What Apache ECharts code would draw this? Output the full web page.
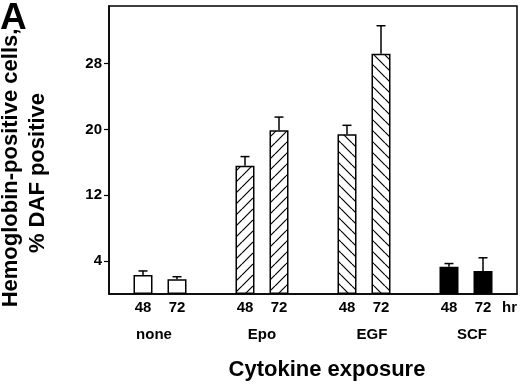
<!DOCTYPE html>
<html><head><meta charset="utf-8">
<script src="https://cdn.jsdelivr.net/npm/echarts@6/dist/echarts.min.js"></script>
<style>html,body{margin:0;padding:0;background:#fff}#c{width:520px;height:385px}</style>
</head><body><div id="c"></div>
<script>
const groups = ['none', 'Epo', 'EGF', 'SCF'];
const hours = ['48', '72'];
const mean48 = [2.3, 15.6, 19.4, 3.3];
const mean72 = [1.8, 19.9, 29.2, 2.8];
const err48 = [0.5, 1.1, 1.1, 0.4];
const err72 = [0.3, 1.6, 3.4, 1.6];
const yTicks = [4, 12, 20, 28];

const FONT = 'Liberation Sans, Arial, sans-serif';

function hatch(dir) {
  const s = 11;
  const c = document.createElement('canvas');
  c.width = c.height = s;
  const g = c.getContext('2d');
  g.fillStyle = '#fff'; g.fillRect(0, 0, s, s);
  g.strokeStyle = '#000'; g.lineWidth = 1.2;
  g.beginPath();
  for (let k = -1; k <= 1; k++) {
    if (dir > 0) { g.moveTo(k * s, s); g.lineTo(k * s + s, 0); }
    else { g.moveTo(k * s, 0); g.lineTo(k * s + s, s); }
  }
  g.stroke();
  return c;
}
const fills = ['#ffffff', {image: hatch(1), repeat: 'repeat'}, {image: hatch(-1), repeat: 'repeat'}, '#000000'];
const labelPad = [[0, 12, 0, 0], [0, 0, 0, 0], [0, 0, 0, 16], [0, 0, 0, 12]];

function barData(vals) {
  return vals.map((v, i) => ({value: v, itemStyle: {color: fills[i]}}));
}
function errData(vals, errs) {
  return vals.map((v, i) => [i, v, v + errs[i]]);
}
function errSeries(vals, errs, side) {
  return {
    type: 'custom', z: 3,
    data: errData(vals, errs),
    renderItem: function (params, api) {
      const band = api.size([1, 0])[0];
      const p0 = api.coord([api.value(0), api.value(1)]);
      const p1 = api.coord([api.value(0), api.value(2)]);
      const x = p0[0] + side * band / 6;
      const st = {stroke: '#000', lineWidth: 1.5};
      return {type: 'group', children: [
        {type: 'line', shape: {x1: x, y1: p0[1], x2: x, y2: p1[1]}, style: st},
        {type: 'line', shape: {x1: x - 4.5, y1: p1[1], x2: x + 4.5, y2: p1[1]}, style: st}
      ]};
    }
  };
}
const hourLabel = (h) => ({show: true, position: 'bottom', distance: 6, formatter: h,
  color: '#000', fontFamily: FONT, fontWeight: 'bold', fontSize: 15});

const chart = echarts.init(document.getElementById('c'), null, {renderer: 'canvas'});
chart.setOption({
  animation: false,
  backgroundColor: '#fff',
  grid: {left: 109, right: 3, top: 6, bottom: 91, show: true, borderColor: '#000', borderWidth: 1.5, backgroundColor: 'transparent'},
  xAxis: {
    type: 'category',
    data: groups.map((g, i) => ({value: g, textStyle: {padding: labelPad[i]}})),
    axisLine: {lineStyle: {color: '#000', width: 1.5}},
    axisTick: {show: false},
    axisLabel: {margin: 33, color: '#000', fontFamily: FONT, fontWeight: 'bold', fontSize: 15}
  },
  yAxis: {
    type: 'value', min: 0, max: 35,
    axisLine: {show: true, lineStyle: {color: '#000', width: 1.5}},
    axisTick: {show: true, length: 5, customValues: yTicks, lineStyle: {color: '#000', width: 1.2}},
    axisLabel: {customValues: yTicks, margin: 7, color: '#000', fontFamily: FONT, fontWeight: 'bold', fontSize: 15},
    splitLine: {show: false}
  },
  series: [
    {type: 'bar', data: barData(mean48), barWidth: 19, barGap: '79%',
     itemStyle: {borderColor: '#000', borderWidth: 1.5}, label: hourLabel(hours[0])},
    {type: 'bar', data: barData(mean72), barWidth: 19, barGap: '79%',
     itemStyle: {borderColor: '#000', borderWidth: 1.5}, label: hourLabel(hours[1])},
    errSeries(mean48, err48, -1),
    errSeries(mean72, err72, 1)
  ],
  graphic: [
    {type: 'text', left: 0, top: 0, style: {text: 'A', font: 'bold 37px ' + FONT, fill: '#000'}},
    {type: 'text', x: 11, y: 168, rotation: Math.PI / 2, style: {text: 'Hemoglobin-positive cells,', font: 'bold 22px ' + FONT, fill: '#000', align: 'center', verticalAlign: 'middle'}},
    {type: 'text', x: 38, y: 173, rotation: Math.PI / 2, style: {text: '% DAF positive', font: 'bold 22px ' + FONT, fill: '#000', align: 'center', verticalAlign: 'middle'}},
    {type: 'text', x: 327, y: 370, style: {text: 'Cytokine exposure', font: 'bold 22px ' + FONT, fill: '#000', align: 'center', verticalAlign: 'middle'}},
    {type: 'text', x: 502, y: 308, style: {text: 'hr', font: 'bold 15px ' + FONT, fill: '#000', align: 'left', verticalAlign: 'middle'}}
  ]
});
</script></body></html>
